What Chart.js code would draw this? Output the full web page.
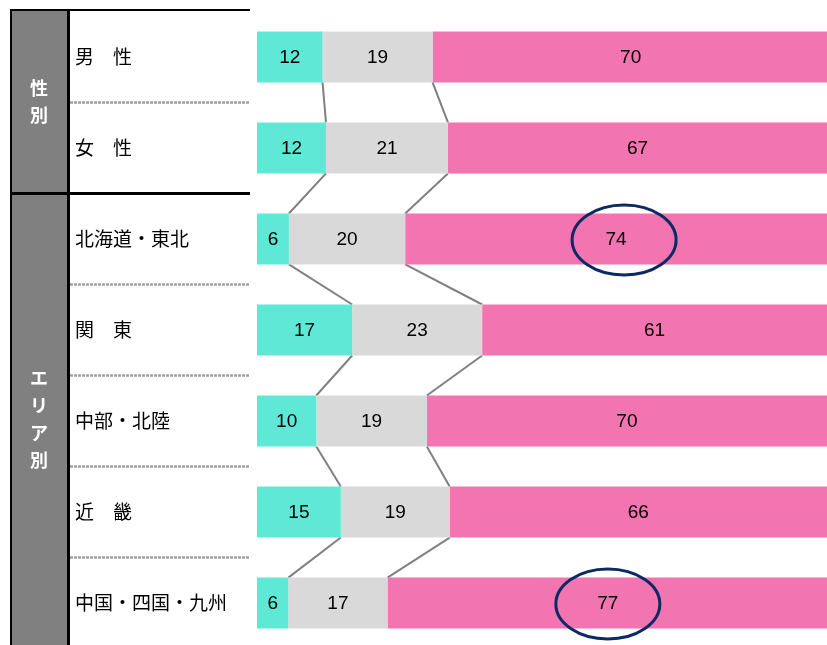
<!DOCTYPE html>
<html>
<head>
<meta charset="utf-8">
<script src="https://cdn.jsdelivr.net/npm/chart.js@4"></script>
<style>
  html, body { margin: 0; padding: 0; background: #fff; overflow: hidden; }
  #wrap { width: 827px; height: 660px; }
</style>
</head>
<body>
<div id="wrap"><canvas id="chart" width="827" height="660"></canvas></div>
<script>
// categories (rows top to bottom)
const categories = ['男　性', '女　性', '北海道・東北', '関　東', '中部・北陸', '近　畿', '中国・四国・九州'];
// groups on the left column: label, first row index, last row index
const groups = [
  { label: ['性', '別'], from: 0, to: 1 },
  { label: ['エ', 'リ', 'ア', '別'], from: 2, to: 6 },
];
// series values (%)
const seriesA = [11.5, 12.1, 5.6, 16.7, 10.4, 14.7, 5.5];
const seriesB = [19.3, 21.4, 20.4, 22.8, 19.4, 19.1, 17.4];
const seriesC = [69.5, 66.5, 74.0, 60.5, 70.2, 66.2, 77.3];
// rows with a highlight circle around the last segment
const circled = [2, 6];

const colors = ['#60E8D7', '#D9D9D9', '#F274B0'];
const circleShift = { 2: 8, 6: 0 };

// table, connectors and circles
const decor = {
  id: 'decor',
  beforeDatasetsDraw(chart) {
    const ctx = chart.ctx;
    const y = chart.scales.y;
    const n = categories.length;
    const mid = i => (y.getPixelForValue(i) + y.getPixelForValue(i + 1)) / 2;

    ctx.save();
    // gray group column
    ctx.fillStyle = '#808080';
    ctx.fillRect(10, 10, 58, 650);

    // dotted row separators
    ctx.strokeStyle = '#a0a0a0';
    ctx.lineWidth = 2.5;
    ctx.setLineDash([3, 1]);
    for (let i = 0; i < n - 1; i++) {
      if (groups.some(g => g.to === i)) continue;
      ctx.beginPath();
      ctx.moveTo(70, mid(i));
      ctx.lineTo(250, mid(i));
      ctx.stroke();
    }
    ctx.setLineDash([]);

    // black borders
    ctx.strokeStyle = '#000';
    ctx.lineWidth = 2;
    ctx.beginPath();
    ctx.moveTo(10, 10); ctx.lineTo(250, 10);
    ctx.moveTo(11, 10); ctx.lineTo(11, 660);
    ctx.stroke();
    ctx.lineWidth = 3;
    ctx.beginPath();
    ctx.moveTo(68.5, 10); ctx.lineTo(68.5, 660);
    groups.forEach(g => {
      if (g.to < n - 1) {
        ctx.moveTo(10, mid(g.to)); ctx.lineTo(250, mid(g.to));
      }
    });
    ctx.stroke();

    // group labels, vertical
    ctx.fillStyle = '#fff';
    ctx.font = 'bold 18px "Noto Sans CJK JP", sans-serif';
    ctx.textAlign = 'center';
    ctx.textBaseline = 'middle';
    groups.forEach(g => {
      const top = g.from === 0 ? 10 : mid(g.from - 1);
      const bottom = g.to === n - 1 ? 645 : mid(g.to);
      const c = (top + bottom) / 2;
      const step = g.label.length > 2 ? 27.5 : 27;
      g.label.forEach((ch, k) => {
        ctx.fillText(ch, 39, c + (k - (g.label.length - 1) / 2) * step);
      });
    });

    // connector lines between segment boundaries
    const metaA = chart.getDatasetMeta(0);
    const metaB = chart.getDatasetMeta(1);
    ctx.strokeStyle = '#808080';
    ctx.lineWidth = 2;
    for (let i = 0; i < n - 1; i++) {
      [metaA, metaB].forEach(meta => {
        const b1 = meta.data[i], b2 = meta.data[i + 1];
        ctx.beginPath();
        ctx.moveTo(b1.x, b1.y + b1.height / 2);
        ctx.lineTo(b2.x, b2.y - b2.height / 2);
        ctx.stroke();
      });
    }
    ctx.restore();
  },
  afterDatasetsDraw(chart) {
    const ctx = chart.ctx;
    const metaC = chart.getDatasetMeta(2);
    ctx.save();
    // data labels
    ctx.fillStyle = '#000';
    ctx.font = '19px "Liberation Sans", Arial, sans-serif';
    ctx.textAlign = 'center';
    ctx.textBaseline = 'middle';
    chart.data.datasets.forEach((ds, di) => {
      chart.getDatasetMeta(di).data.forEach((bar, i) => {
        const left = bar.base, right = bar.x;
        ctx.fillText(Math.round(ds.data[i]), (left + right) / 2, bar.y + 1);
      });
    });
    // highlight circles
    ctx.strokeStyle = '#0B2A63';
    ctx.lineWidth = 3;
    circled.forEach(i => {
      const bar = metaC.data[i];
      const cx = (bar.base + bar.x) / 2 + (circleShift[i] || 0);
      ctx.beginPath();
      ctx.ellipse(cx, bar.y + 1, 52, 35, 0, 0, Math.PI * 2);
      ctx.stroke();
    });
    ctx.restore();
  }
};

new Chart(document.getElementById('chart'), {
  type: 'bar',
  data: {
    labels: categories,
    datasets: [
      { data: seriesA, backgroundColor: colors[0] },
      { data: seriesB, backgroundColor: colors[1] },
      { data: seriesC, backgroundColor: colors[2] },
    ].map(d => Object.assign(d, { borderWidth: 0, barPercentage: 0.56, categoryPercentage: 1 }))
  },
  options: {
    indexAxis: 'y',
    responsive: false,
    animation: false,
    layout: { padding: { top: 10, bottom: 10, left: 75, right: 0 } },
    plugins: { legend: { display: false }, tooltip: { enabled: false } },
    scales: {
      x: { stacked: true, min: 0, max: 100, display: false },
      y: {
        stacked: true,
        grid: { display: false },
        border: { display: false },
        ticks: {
          crossAlign: 'far',
          color: '#000',
          font: { size: 19, family: '"Noto Sans CJK JP", sans-serif' },
          padding: 0
        },
        afterFit(scale) { scale.width = 182; }
      }
    }
  },
  plugins: [decor]
});
</script>
</body>
</html>
